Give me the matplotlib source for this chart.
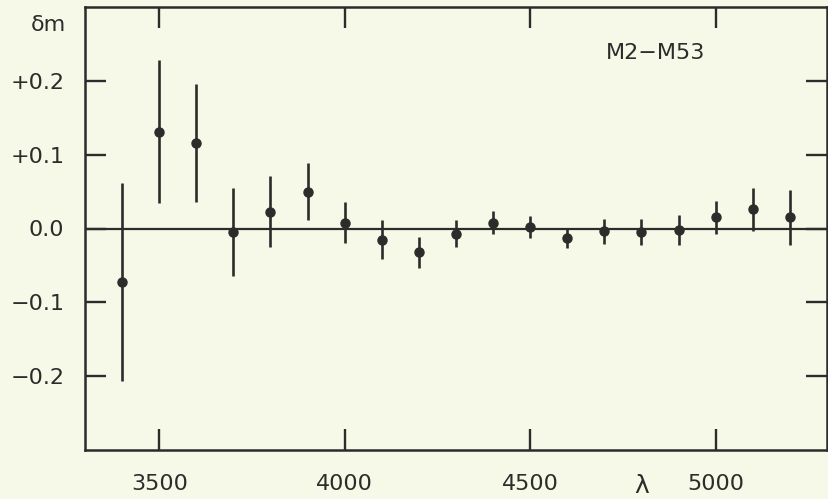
import matplotlib.pyplot as plt
from matplotlib.transforms import blended_transform_factory

# wavelength (A), magnitude difference and its error, M2 - M53
wavelength = [3400, 3500, 3600, 3700, 3800, 3900, 4000, 4100, 4200, 4300,
              4400, 4500, 4600, 4700, 4800, 4900, 5000, 5100, 5200]
delta_m = [-0.072, 0.131, 0.116, -0.005, 0.023, 0.050, 0.008, -0.015, -0.032, -0.007,
           0.008, 0.002, -0.013, -0.004, -0.005, -0.002, 0.015, 0.026, 0.015]
delta_err = [0.134, 0.097, 0.080, 0.060, 0.048, 0.039, 0.028, 0.026, 0.021, 0.018,
             0.016, 0.015, 0.013, 0.017, 0.018, 0.020, 0.022, 0.029, 0.037]

x_ticks = [3500, 4000, 4500, 5000]
x_tick_labels = ["3500", "4000", "4500", "5000"]
y_ticks = [-0.2, -0.1, 0.0, 0.1, 0.2]
y_tick_labels = ["\u22120.2", "\u22120.1", "0.0", "+0.1", "+0.2"]

BG = "#f6f8e8"
INK = "#2c2c2a"

fig = plt.figure(figsize=(8.29, 4.99), dpi=100, facecolor=BG)
ax = fig.add_axes([85 / 829, 49 / 499, 742 / 829, 443 / 499], facecolor=BG)

ax.axhline(0.0, color=INK, linewidth=1.6, zorder=1)
ax.errorbar(wavelength, delta_m, yerr=delta_err, fmt="o", color=INK,
            markersize=6.5, elinewidth=1.9, capsize=0, zorder=3)

ax.set_xlim(3300, 5300)
ax.set_ylim(-0.3, 0.3)
ax.set_xticks(x_ticks)
ax.set_xticklabels(x_tick_labels)
ax.set_yticks(y_ticks)
ax.set_yticklabels(y_tick_labels)
ax.tick_params(direction="in", length=15, width=1.7, color=INK, labelcolor=INK,
               labelsize=16, top=True, right=True)
ax.tick_params(axis="y", pad=15)
ax.tick_params(axis="x", pad=17)
for spine in ax.spines.values():
    spine.set_linewidth(1.8)
    spine.set_color(INK)

trans = blended_transform_factory(ax.transData, fig.transFigure)
ax.text(4800, 1 - 486 / 499, "\u03bb", transform=trans, ha="center", va="center",
        fontsize=18, color=INK)
fig.text(66 / 829, 1 - 25 / 499, "\u03b4m", ha="right", va="center",
         fontsize=16, color=INK)
ax.text(4838, 0.238, "M2\u2212M53", ha="center", va="center", fontsize=16, color=INK)

fig.savefig("out.png", dpi=100, facecolor=BG)
